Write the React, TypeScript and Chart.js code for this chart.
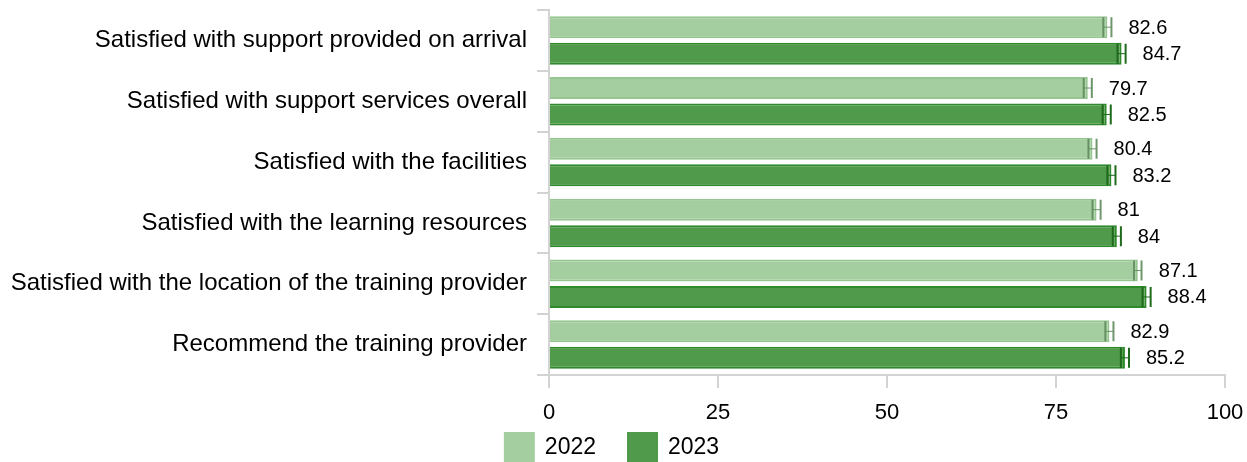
import React, { useEffect, useRef } from "react";
import { Chart, registerables } from "chart.js";

Chart.register(...registerables);

const categories = [
  "Satisfied with support provided on arrival",
  "Satisfied with support services overall",
  "Satisfied with the facilities",
  "Satisfied with the learning resources",
  "Satisfied with the location of the training provider",
  "Recommend the training provider",
];
const seriesNames = ["2022", "2023"];
const values2022 = [82.6, 79.7, 80.4, 81, 87.1, 82.9];
const values2023 = [84.7, 82.5, 83.2, 84, 88.4, 85.2];
const errors2022 = [0.6, 0.6, 0.6, 0.6, 0.55, 0.6];
const errors2023 = [0.6, 0.6, 0.6, 0.6, 0.6, 0.6];
const xTicks = [0, 25, 50, 75, 100];

const FONT = "'Liberation Sans', Arial, sans-serif";

const errorBarPlugin = {
  id: "errorBarsAndLabels",
  afterDatasetsDraw(chart: any) {
    const ctx = chart.ctx;
    const xScale = chart.scales.x;
    chart.data.datasets.forEach((ds: any, di: number) => {
      const meta = chart.getDatasetMeta(di);
      if (meta.hidden) return;
      meta.data.forEach((bar: any, i: number) => {
        const v = ds.data[i];
        const e = ds.errors[i];
        const y = bar.y;
        const h = bar.height;
        const x0 = xScale.getPixelForValue(v - e);
        const x1 = xScale.getPixelForValue(v + e);
        ctx.save();
        ctx.strokeStyle = ds.errorColor;
        ctx.lineWidth = 1;
        ctx.beginPath();
        ctx.moveTo(x0, y);
        ctx.lineTo(x1, y);
        ctx.stroke();
        ctx.lineWidth = 2;
        ctx.beginPath();
        ctx.moveTo(x0, y - h / 2 + 1);
        ctx.lineTo(x0, y + h / 2 - 1);
        ctx.moveTo(x1, y - h / 2 + 1);
        ctx.lineTo(x1, y + h / 2 - 1);
        ctx.stroke();
        ctx.fillStyle = "#000";
        ctx.font = `20px ${FONT}`;
        ctx.textAlign = "left";
        ctx.textBaseline = "middle";
        ctx.fillText(String(v), xScale.getPixelForValue(v) + 21, y + 1);
        ctx.restore();
      });
    });
  },
};

const legendPlugin = {
  id: "bottomLegend",
  afterDraw(chart: any) {
    const ctx = chart.ctx;
    const boxW = 31;
    const boxH = 30;
    const textGap = 10;
    const itemGap = 31;
    const centerX = 611.5;
    const top = 432;
    ctx.save();
    ctx.font = `23px ${FONT}`;
    const items = chart.data.datasets.map((ds: any) => ({
      label: ds.label,
      color: ds.backgroundColor,
      w: boxW + textGap + ctx.measureText(ds.label).width,
    }));
    const total =
      items.reduce((s: number, it: any) => s + it.w, 0) + itemGap * (items.length - 1);
    let x = centerX - total / 2;
    items.forEach((it: any) => {
      ctx.fillStyle = it.color;
      ctx.fillRect(x, top, boxW, boxH);
      ctx.fillStyle = "#000";
      ctx.textAlign = "left";
      ctx.textBaseline = "middle";
      ctx.fillText(it.label, x + boxW + textGap, top + boxH / 2 + 1);
      x += it.w + itemGap;
    });
    ctx.restore();
  },
};

export default function App() {
  const canvasRef = useRef<HTMLCanvasElement | null>(null);

  useEffect(() => {
    if (!canvasRef.current) return;
    const chart = new Chart(canvasRef.current, {
      type: "bar",
      data: {
        labels: categories,
        datasets: [
          {
            label: seriesNames[0],
            data: values2022,
            errors: errors2022,
            errorColor: "rgba(95,140,92,0.9)",
            backgroundColor: "#a5cea0",
            borderColor: "#97c592",
            borderWidth: 2,
            categoryPercentage: 0.87,
            barPercentage: 0.83,
          } as any,
          {
            label: seriesNames[1],
            data: values2023,
            errors: errors2023,
            errorColor: "#1f6a1c",
            backgroundColor: "#509a4b",
            borderColor: "#2f8a2b",
            borderWidth: 2,
            categoryPercentage: 0.87,
            barPercentage: 0.83,
          } as any,
        ],
      },
      options: {
        indexAxis: "y",
        responsive: false,
        animation: false,
        devicePixelRatio: 1,
        layout: { padding: { top: 10, left: 0, right: 22, bottom: 35 } },
        plugins: {
          tooltip: { enabled: false },
          legend: { display: false },
        },
        scales: {
          x: {
            min: 0,
            max: 100,
            afterBuildTicks: (s: any) => {
              s.ticks = xTicks.map((v) => ({ value: v }));
            },
            afterFit: (s: any) => {
              s.height = 52;
              s.paddingLeft = 0;
              s.paddingRight = 0;
            },
            ticks: {
              color: "#000",
              font: { size: 22, family: FONT },
              padding: 12,
              maxRotation: 0,
            },
            grid: {
              drawOnChartArea: false,
              drawTicks: true,
              tickLength: 13,
              color: "#d3d3d3",
              lineWidth: 2,
            },
            border: { color: "#d3d3d3", width: 2 },
          },
          y: {
            afterFit: (s: any) => {
              s.width = 549;
              s.paddingTop = 0;
              s.paddingBottom = 0;
            },
            ticks: {
              color: "#000",
              font: { size: 24, family: FONT },
              padding: 10,
            },
            grid: {
              offset: true,
              drawOnChartArea: false,
              drawTicks: true,
              tickLength: 12,
              color: "#d3d3d3",
              lineWidth: 2,
            },
            border: { color: "#d3d3d3", width: 2 },
          },
        },
      },
      plugins: [errorBarPlugin, legendPlugin],
    });
    return () => chart.destroy();
  }, []);

  return (
    <div
      style={{
        position: "fixed",
        left: 0,
        top: 0,
        width: 1247,
        height: 462,
        overflow: "hidden",
        background: "#fff",
      }}
    >
      <canvas ref={canvasRef} width={1247} height={462} style={{ display: "block" }} />
    </div>
  );
}
